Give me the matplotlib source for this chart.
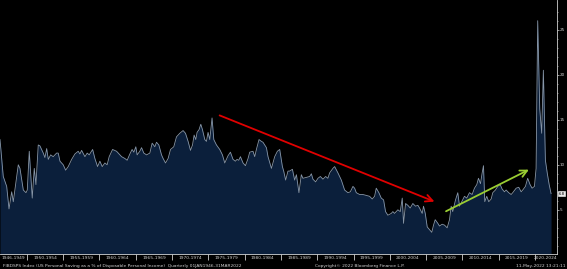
import numpy as np
import matplotlib
matplotlib.use("Agg")
import matplotlib.pyplot as plt
from matplotlib.ticker import FixedLocator, NullFormatter, FixedFormatter

# FIBDSPS Index - US personal saving as % of disposable income
years = [1946.30, 1946.75, 1947.22, 1947.54, 1947.91, 1948.13, 1948.82, 1949.05, 1949.51, 1949.88,
         1950.06, 1950.33, 1950.74, 1951.02, 1951.25, 1951.57, 1951.80, 1952.26, 1952.49, 1952.73,
         1952.95, 1953.28, 1953.63, 1954.10, 1954.32, 1954.56, 1955.01, 1955.34, 1955.70, 1956.17,
         1956.62, 1957.07, 1957.31, 1957.54, 1958.00, 1958.31, 1958.59, 1959.06, 1959.37, 1959.74,
         1960.06, 1960.38, 1960.75, 1961.06, 1961.34, 1961.81, 1962.36, 1963.05, 1963.50, 1963.82,
         1964.19, 1964.50, 1964.74, 1965.01, 1965.19, 1965.56, 1965.80, 1966.11, 1966.49, 1966.94,
         1967.26, 1967.63, 1967.86, 1968.18, 1968.55, 1968.77, 1969.10, 1969.46, 1969.79, 1970.24,
         1970.61, 1971.07, 1971.52, 1971.85, 1972.21, 1972.54, 1972.82, 1973.04, 1973.27, 1973.45,
         1973.72, 1973.96, 1974.19, 1974.51, 1974.74, 1974.96, 1975.20, 1975.51, 1975.75, 1976.12,
         1976.57, 1976.94, 1977.26, 1977.71, 1978.04, 1978.40, 1978.73, 1978.95, 1979.19, 1979.42,
         1979.78, 1980.11, 1980.47, 1980.70, 1981.15, 1981.39, 1981.62, 1981.98, 1982.31, 1982.53,
         1983.00, 1983.22, 1983.69, 1984.14, 1984.51, 1984.83, 1985.20, 1985.38, 1985.65, 1985.97,
         1986.20, 1986.58, 1986.89, 1987.13, 1987.48, 1987.81, 1988.03, 1988.50, 1988.96, 1989.19,
         1989.41, 1989.78, 1990.10, 1990.43, 1990.79, 1991.16, 1991.47, 1991.71, 1992.16, 1992.40,
         1992.85, 1993.32, 1993.77, 1994.23, 1994.56, 1994.92, 1995.15, 1995.38, 1995.84, 1996.29,
         1996.76, 1997.21, 1997.58, 1997.90, 1998.13, 1998.49, 1998.82, 1999.14, 1999.41, 1999.73,
         2000.20, 2000.42, 2000.65, 2001.11, 2001.44, 2001.71, 2001.89, 2002.17, 2002.48, 2002.81,
         2003.17, 2003.54, 2003.86, 2004.09, 2004.46, 2004.64, 2004.88, 2005.15, 2005.47, 2005.78,
         2006.02, 2006.25, 2006.61, 2006.84, 2007.21, 2007.53, 2007.90, 2008.22, 2008.45, 2008.67,
         2009.05, 2009.36, 2009.60, 2009.97, 2010.28, 2010.60, 2010.97, 2011.34, 2011.66, 2011.98,
         2012.21, 2012.49, 2012.72, 2012.90, 2013.08, 2013.35, 2013.63, 2013.96, 2014.18, 2014.55,
         2014.87, 2015.20, 2015.47, 2015.79, 2016.02, 2016.38, 2016.71, 2016.93, 2017.40, 2017.76,
         2018.09, 2018.31, 2018.68, 2018.99, 2019.32, 2019.60, 2019.92, 2020.15, 2020.37, 2020.65,
         2020.92, 2021.15, 2021.43, 2021.70, 2021.95, 2022.21]
saving = [12.8, 8.7, 7.6, 5.1, 7.0, 5.9, 10.0, 9.6, 7.2, 6.9,
          7.2, 11.5, 6.3, 9.6, 7.8, 12.2, 12.1, 11.3, 10.8, 11.8,
          10.6, 11.1, 10.9, 11.3, 11.3, 10.4, 10.0, 9.4, 9.8, 10.6,
          11.2, 11.5, 11.2, 11.6, 10.9, 11.3, 11.1, 11.7, 10.7, 9.8,
          10.4, 9.8, 10.2, 10.0, 10.9, 11.7, 11.5, 10.9, 10.7, 10.5,
          11.2, 11.7, 11.4, 12.0, 11.1, 11.5, 11.9, 11.3, 11.1, 11.3,
          12.4, 12.0, 12.5, 12.2, 11.1, 10.7, 10.2, 10.7, 11.7, 12.0,
          13.1, 13.5, 13.8, 13.5, 12.6, 11.6, 12.2, 13.3, 12.8, 13.6,
          13.9, 14.5, 13.9, 12.8, 12.6, 13.6, 12.8, 15.2, 12.8, 12.2,
          11.7, 11.1, 10.2, 11.0, 11.4, 10.6, 10.4, 10.6, 10.5, 10.9,
          10.2, 9.9, 10.7, 11.4, 11.5, 10.9, 11.7, 12.8, 12.6, 12.5,
          11.9, 10.9, 9.6, 10.9, 11.5, 11.7, 9.8, 9.3, 8.3, 9.3,
          9.3, 9.5, 8.3, 8.9, 6.9, 8.9, 8.5, 8.6, 8.7, 9.0,
          8.4, 8.1, 8.5, 8.7, 8.4, 8.7, 8.5, 9.1, 9.6, 9.8,
          9.1, 8.3, 7.2, 6.9, 7.0, 7.6, 7.4, 6.9, 6.7, 6.7,
          6.6, 6.5, 6.2, 6.5, 7.4, 6.9, 6.3, 6.1, 4.8, 4.4,
          4.6, 4.8, 4.6, 5.0, 4.8, 6.3, 3.5, 5.7, 5.5, 5.2,
          5.7, 5.4, 5.5, 5.2, 4.6, 5.4, 4.6, 3.1, 2.8, 2.5,
          3.3, 3.9, 3.5, 3.2, 3.4, 3.3, 3.0, 3.9, 5.4, 4.8,
          6.1, 6.9, 5.4, 6.0, 6.5, 6.3, 6.9, 6.7, 7.4, 7.8,
          8.5, 7.9, 9.1, 9.9, 5.9, 6.5, 5.9, 6.2, 6.9, 7.2,
          7.6, 7.8, 7.3, 7.0, 7.2, 6.9, 6.7, 6.9, 7.4, 7.5,
          7.0, 7.2, 7.6, 8.5, 7.8, 7.4, 7.6, 9.6, 26.0, 16.2,
          13.5, 20.5, 10.5, 9.0, 7.8, 6.8]

period_labels = ["1946-1949", "1950-1954", "1955-1959", "1960-1964", "1965-1969", "1970-1974",
                 "1975-1979", "1980-1984", "1985-1989", "1990-1994", "1995-1999", "2000-2004",
                 "2005-2009", "2010-2014", "2015-2019", "2020-2024"]
period_starts = [1946, 1950, 1955, 1960, 1965, 1970, 1975, 1980, 1985, 1990, 1995, 2000,
                 2005, 2010, 2015, 2020]
y_ticks = [5, 10, 15, 20, 25]

# annotation arrows (start year, start value, end year, end value)
red_arrow = (1976.2, 15.6, 2006.5, 5.8)
green_arrow = (2007.4, 4.7, 2019.5, 9.6)

x_min, x_max = 1946.3, 2023.0
fg = "#d0d0d0"

fig = plt.figure(figsize=(5.67, 2.69), dpi=100, facecolor="black")
ax = fig.add_axes([0.0, 0.056, 0.982, 0.944])
ax.set_facecolor("black")

ax.fill_between(years, saving, 0, color="#0b1f3b", lw=0)
ax.plot(years, saving, color="#8796a8", lw=0.6)

ax.set_xlim(x_min, x_max)
ax.set_ylim(0.1, 28.3)

# x axis: separators at period boundaries, labels centred in each period
seps = period_starts[1:]
ax.xaxis.set_major_locator(FixedLocator(seps))
ax.xaxis.set_major_formatter(NullFormatter())
centers = []
for i, s in enumerate(period_starts):
    lo = max(s, x_min)
    hi = period_starts[i + 1] if i + 1 < len(period_starts) else min(s + 5, x_max)
    centers.append((lo + hi) / 2)
ax.xaxis.set_minor_locator(FixedLocator(centers))
ax.xaxis.set_minor_formatter(FixedFormatter(period_labels))
ax.tick_params(axis="x", which="major", length=4, width=0.6, color=fg, direction="out")
ax.tick_params(axis="x", which="minor", length=0, labelsize=3.2, labelcolor=fg, pad=1.2)

# y axis on the right
ax.yaxis.tick_right()
ax.set_yticks(y_ticks)
ax.set_yticklabels([str(t) for t in y_ticks])
ax.yaxis.set_minor_locator(FixedLocator(np.arange(1, 28, 1)))
ax.tick_params(axis="y", which="major", length=1.5, width=0.5, color=fg,
               labelsize=3.0, labelcolor=fg, pad=0.5)
ax.tick_params(axis="y", which="minor", length=0.8, width=0.4, color=fg)

for side in ["top", "left"]:
    ax.spines[side].set_visible(False)
ax.spines["right"].set_color(fg)
ax.spines["right"].set_linewidth(0.6)
ax.spines["bottom"].set_color(fg)
ax.spines["bottom"].set_linewidth(0.6)

# last value tag
ax.annotate(f"{saving[-1]:.1f}", xy=(1.0, saving[-1]), xycoords=("axes fraction", "data"),
            xytext=(1.2, 0), textcoords="offset points", ha="left", va="center",
            fontsize=2.8, color="black",
            bbox=dict(boxstyle="square,pad=0.2", fc="#e8e8e8", ec="white", lw=0.4),
            annotation_clip=False)

# trend arrows
for (x0, y0, x1, y1), c in [(red_arrow, "#e00000"), (green_arrow, "#9acd32")]:
    ax.annotate("", xy=(x1, y1), xytext=(x0, y0),
                arrowprops=dict(arrowstyle="->,head_length=0.5,head_width=0.25",
                                color=c, lw=1.3))

# footer
fig.text(0.005, 0.005, "FIBDSPS Index (US Personal Saving as a % of Disposable Personal Income)  "
         "Quarterly 01JAN1946-31MAR2022", fontsize=3.2, color=fg, ha="left", va="bottom")
fig.text(0.635, 0.005, "Copyright\u00a9 2022 Bloomberg Finance L.P.", fontsize=3.2, color=fg,
         ha="center", va="bottom")
fig.text(0.998, 0.005, "11-May-2022 13:21:11", fontsize=3.2, color=fg, ha="right", va="bottom")

fig.savefig("out.png", dpi=100, facecolor="black")
